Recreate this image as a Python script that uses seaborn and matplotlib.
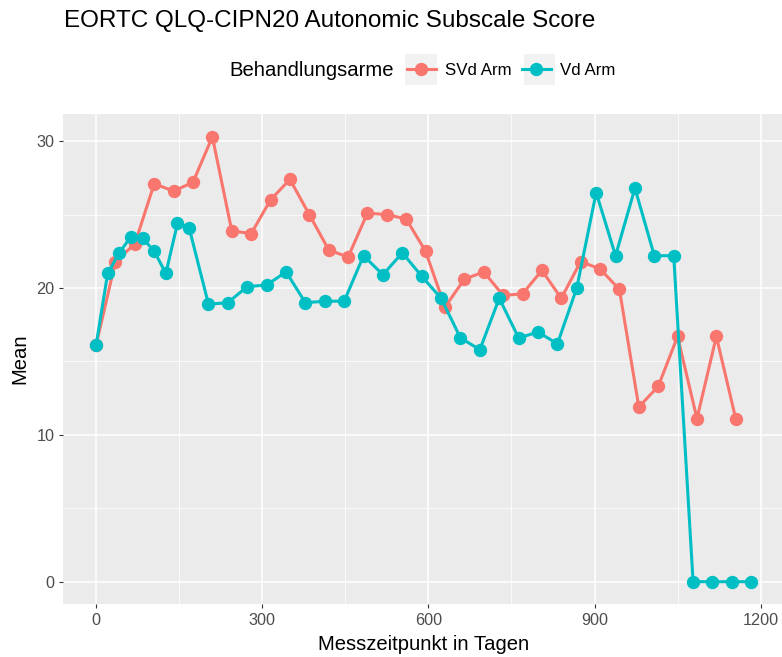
import pandas as pd
import numpy as np
import matplotlib.pyplot as plt
import seaborn as sns
from matplotlib.patches import Rectangle
from matplotlib.ticker import MultipleLocator

# Messzeitpunkte (Tage) und Mittelwerte je Arm
svd_days = [0, 35, 70, 105, 140, 175, 210, 245, 280, 315, 350, 385, 420, 455, 490, 525, 560,
            595, 630, 665, 700, 735, 770, 805, 840, 875, 910, 945, 980, 1015, 1050, 1085, 1120, 1155]
svd_mean = [16.1, 21.8, 23.0, 27.1, 26.6, 27.2, 30.3, 23.9, 23.7, 26.0, 27.4, 25.0, 22.6, 22.1, 25.1, 25.0, 24.7,
            22.5, 18.7, 20.6, 21.1, 19.5, 19.6, 21.2, 19.3, 21.8, 21.3, 19.9, 11.9, 13.3, 16.7, 11.1, 16.7, 11.1]

vd_days = [0, 21, 42, 63, 84, 105, 126, 147, 168, 203, 238, 273, 308, 343, 378, 413, 448, 483, 518,
           553, 588, 623, 658, 693, 728, 763, 798, 833, 868, 903, 938, 973, 1008, 1043, 1078, 1113, 1148, 1183]
vd_mean = [16.1, 21.0, 22.4, 23.5, 23.4, 22.5, 21.0, 24.4, 24.1, 18.9, 19.0, 20.1, 20.2, 21.1, 19.0, 19.1, 19.1, 22.2, 20.9,
           22.4, 20.8, 19.3, 16.6, 15.8, 19.3, 16.6, 17.0, 16.2, 20.0, 26.5, 22.2, 26.8, 22.2, 22.2, 0, 0, 0, 0]

arms = ['SVd Arm', 'Vd Arm']
colors = ['#F8766D', '#00BFC4']

df = pd.concat([
    pd.DataFrame({'Tag': svd_days, 'Mean': svd_mean, 'Arm': arms[0]}),
    pd.DataFrame({'Tag': vd_days, 'Mean': vd_mean, 'Arm': arms[1]}),
])

plt.rcParams['font.family'] = ['Liberation Sans', 'DejaVu Sans']

W, H = 782, 657
fig = plt.figure(figsize=(W / 100, H / 100), dpi=100)
# panel in pixels: left 63, right 784, top 114, bottom 604
ax = fig.add_axes([63.3 / W, 1 - 604 / H, (784 - 63.3) / W, (604 - 114) / H])
ax.set_facecolor('#EBEBEB')

sns.lineplot(data=df, x='Tag', y='Mean', hue='Arm', hue_order=arms, palette=colors,
             marker='o', markersize=9.6, markeredgewidth=0, linewidth=2.2, ax=ax, legend=True)

ax.set_xlim(-59.15, 1242.15)
ax.set_ylim(-1.52, 31.85)
ax.xaxis.set_major_locator(MultipleLocator(300))
ax.xaxis.set_minor_locator(MultipleLocator(150))
ax.yaxis.set_major_locator(MultipleLocator(10))
ax.yaxis.set_minor_locator(MultipleLocator(5))
ax.grid(which='major', color='white', linewidth=1.1)
ax.grid(which='minor', color='white', linewidth=0.55)
ax.set_axisbelow(True)
for s in ax.spines.values():
    s.set_visible(False)
ax.tick_params(which='major', length=2.8, width=0.8, color='#333333',
               labelcolor='#4D4D4D', labelsize=11.7, pad=3.5)
ax.tick_params(which='minor', length=0)

ax.set_xlabel('Messzeitpunkt in Tagen', fontsize=14.6, labelpad=5)
ax.set_ylabel('Mean', fontsize=14.6, labelpad=5)

fig.text(64 / W, 1 - 21 / H, 'EORTC QLQ-CIPN20 Autonomic Subscale Score',
         fontsize=17.5, ha='left', va='center')

# Legende oben, Titel links daneben
handles, labels = ax.get_legend_handles_labels()
ax.get_legend().remove()
for x0 in (405.5, 523.7):
    fig.patches.append(Rectangle((x0 / W, 1 - 85 / H), 31.5 / W, 31 / H,
                                 transform=fig.transFigure, facecolor='#F2F2F2',
                                 edgecolor='none', zorder=0))
fig.text(394 / W, 1 - 71 / H, 'Behandlungsarme', fontsize=14.6, ha='right', va='center')
fig.legend(handles, labels, loc='center left', bbox_to_anchor=(407 / W, 1 - 70.5 / H),
           ncol=2, frameon=False, fontsize=12.2, handlelength=1.7, handletextpad=0.55,
           columnspacing=0.6, borderpad=0, borderaxespad=0)

fig.savefig('out.png', dpi=100)
